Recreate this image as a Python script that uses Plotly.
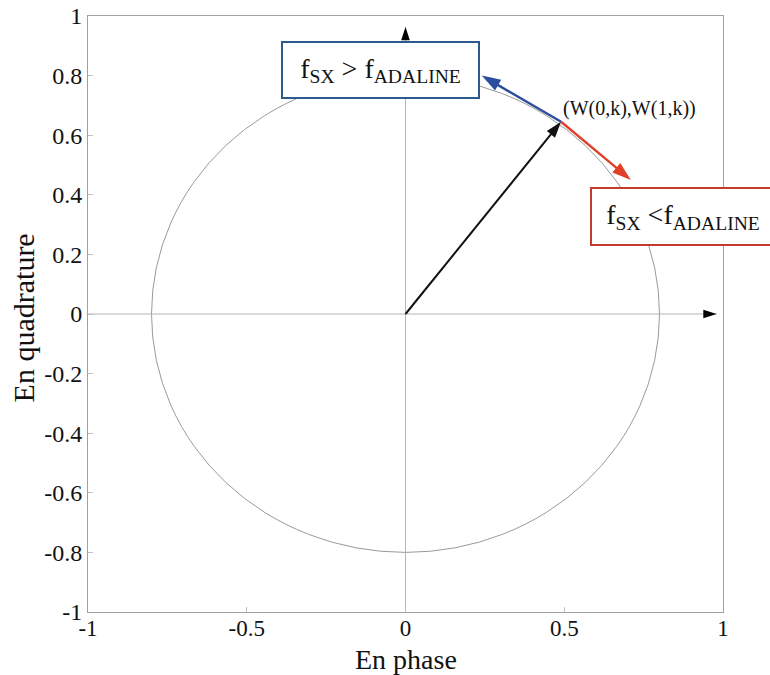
import plotly.graph_objects as go

# ---- data ----
x_tick_vals = [-1, -0.5, 0, 0.5, 1]
x_tick_text = ["-1", "-0.5", "0", "0.5", "1"]
y_tick_vals = [-1, -0.8, -0.6, -0.4, -0.2, 0, 0.2, 0.4, 0.6, 0.8, 1]
y_tick_text = ["-1", "-0.8", "-0.6", "-0.4", "-0.2", "0", "0.2", "0.4", "0.6", "0.8", "1"]
circle_radius = 0.8
origin = (0.0, 0.0)
w_point = (0.49, 0.645)          # (W(0,k), W(1,k))
blue_tip = (0.24, 0.80)          # f_SX > f_ADALINE direction
red_tip = (0.71, 0.45)           # f_SX < f_ADALINE direction
x_axis_arrow = [(-1.0, 0.0), (0.98, 0.0)]
y_axis_arrow = [(0.0, -1.0), (0.0, 0.963)]
w_label = "(W(0,k),W(1,k))"
blue_label = "f<sub>SX</sub> > f<sub>ADALINE</sub>"
red_label = "f<sub>SX</sub> <f<sub>ADALINE</sub>"

FONT = "Liberation Serif"

fig = go.Figure()

def arrow_trace(tail, tip, color, width, head):
    return go.Scatter(
        x=[tail[0], tip[0]], y=[tail[1], tip[1]], mode="lines+markers",
        line=dict(color=color, width=width),
        marker=dict(symbol=["circle", "arrow"], size=[0, head], angleref="previous",
                    color=color, opacity=1, line=dict(width=0)),
        showlegend=False, hoverinfo="skip", cliponaxis=False)

# axis cross lines with arrowheads
fig.add_trace(go.Scatter(x=[x_axis_arrow[0][0], x_axis_arrow[1][0]], y=[x_axis_arrow[0][1], x_axis_arrow[1][1]],
                         mode="lines", line=dict(color="#b5b5b5", width=1), showlegend=False, hoverinfo="skip"))
fig.add_trace(go.Scatter(x=[y_axis_arrow[0][0], y_axis_arrow[1][0]], y=[y_axis_arrow[0][1], y_axis_arrow[1][1]],
                         mode="lines", line=dict(color="#b5b5b5", width=1), showlegend=False, hoverinfo="skip"))
for pts in (x_axis_arrow, y_axis_arrow):
    fig.add_trace(go.Scatter(x=[pts[0][0], pts[1][0]], y=[pts[0][1], pts[1][1]], mode="markers",
                             marker=dict(symbol=["circle", "arrow"], size=[0, 14], angleref="previous",
                                         color="#000000", opacity=1, line=dict(width=0)),
                             showlegend=False, hoverinfo="skip"))

# vectors
fig.add_trace(arrow_trace(origin, w_point, "#111111", 2, 17))
fig.add_trace(arrow_trace(w_point, blue_tip, "#2c4c9e", 2.4, 20))
fig.add_trace(arrow_trace(w_point, red_tip, "#e0402a", 2.4, 20))

shapes = [
    dict(type="circle", xref="x", yref="y", x0=-circle_radius, y0=-circle_radius,
         x1=circle_radius, y1=circle_radius, line=dict(color="#9a9a9a", width=1), layer="below"),
]

annotations = [
    dict(x=0.49, y=0.69, xref="x", yref="y", xanchor="left", yanchor="middle",
         text=w_label, showarrow=False, font=dict(family=FONT, size=20, color="#111111")),
    dict(x=-0.08, y=0.819, xref="x", yref="y", xanchor="center", yanchor="middle",
         text=blue_label, showarrow=False, font=dict(family=FONT, size=28, color="#111111"),
         bordercolor="#2b5a8c", borderwidth=2, borderpad=6, bgcolor="white", width=183, height=42),
    dict(x=0.875, y=0.327, xref="x", yref="y", xanchor="center", yanchor="middle",
         text=red_label, showarrow=False, font=dict(family=FONT, size=28, color="#111111"),
         bordercolor="#c23b2c", borderwidth=2, borderpad=6, bgcolor="white", width=170, height=43),
    dict(x=0.5, y=-0.079, xref="paper", yref="paper", xanchor="center", yanchor="middle",
         text="En phase", showarrow=False, font=dict(family=FONT, size=28, color="#111111")),
    dict(x=-0.102, y=0.493, xref="paper", yref="paper", xanchor="center", yanchor="middle",
         text="En quadrature", textangle=-90, showarrow=False,
         font=dict(family=FONT, size=30, color="#111111")),
]

axis_common = dict(range=[-1, 1], showgrid=False, zeroline=False, showline=True, mirror=True,
                   linecolor="#a0a0a0", linewidth=1, ticks="inside", ticklen=5, tickcolor="#c0c0c0",
                   automargin=False, ticklabeloverflow="allow")

fig.update_layout(
    width=770, height=675,
    margin=dict(l=88, r=47, t=16, b=63),
    paper_bgcolor="white", plot_bgcolor="white",
    shapes=shapes, annotations=annotations,
    showlegend=False,
    xaxis=dict(tickvals=x_tick_vals, ticktext=x_tick_text, ticklabelstandoff=-5,
               tickfont=dict(family=FONT, size=23, color="#111111"), **axis_common),
    yaxis=dict(tickvals=y_tick_vals, ticktext=y_tick_text,
               tickfont=dict(family=FONT, size=24, color="#111111"), **axis_common),
)

fig.write_html("out.html", config={"displayModeBar": False},
               post_script="document.body.style.margin='0px';")
